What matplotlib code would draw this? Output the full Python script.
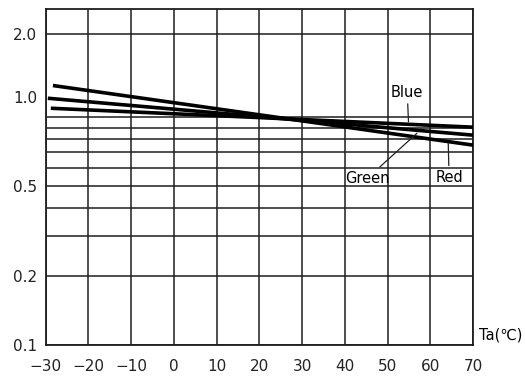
import numpy as np
import matplotlib
matplotlib.use("Agg")
import matplotlib.pyplot as plt

# ---- data ----
temps_red = [-28.3, 70]
red_vals = [1.30, 0.754]
temps_green = [-29.5, 70]
green_vals = [1.17, 0.834]
temps_blue = [-28.8, 70]
blue_vals = [1.077, 0.904]

x_ticks = [-30, -20, -10, 0, 10, 20, 30, 40, 50, 60, 70]
x_tick_labels = ['\u221230', '\u221220', '\u221210', '0', '10', '20', '30', '40', '50', '60', '70']
y_grid = [0.1, 0.2, 0.3, 0.4, 0.5, 0.6, 0.7, 0.8, 0.9, 1.0, 2.0]
y_tick_labels = ['0.1', '0.2', '', '', '0.5', '', '', '', '', '', '2.0']

# chart's own (slightly stretched above 1.0) logarithmic scale
K = 1.22


def fwd(y):
    y = np.asarray(y, dtype=float)
    l = np.log10(np.clip(y, 1e-9, None))
    return np.where(l > 0, l * K, l)


def inv(u):
    u = np.asarray(u, dtype=float)
    return np.where(u > 0, 10 ** (u / K), 10 ** u)


plt.rcParams['font.family'] = ['DejaVu Sans']

fig = plt.figure(figsize=(5.25, 3.76), dpi=100)
ax = fig.add_axes([0.087, 0.0824, 0.814, 0.8936])
ax.set_yscale('function', functions=(fwd, inv))
ax.set_xlim(-30, 70)
ax.set_ylim(0.1, 2.45)

gc = '#1e1e1e'
for x in x_ticks:
    ax.axvline(x, color=gc, lw=1.1, zorder=1)
for y in y_grid:
    ax.axhline(y, color=gc, lw=1.1, zorder=1)

lw = 2.6
ax.plot(temps_red, red_vals, color='black', lw=lw, solid_capstyle='butt', zorder=3)
ax.plot(temps_green, green_vals, color='black', lw=lw, solid_capstyle='butt', zorder=3)
ax.plot(temps_blue, blue_vals, color='black', lw=lw, solid_capstyle='butt', zorder=3)

ax.set_xticks(x_ticks)
ax.set_xticklabels(x_tick_labels)
ax.set_yticks(y_grid)
ax.set_yticklabels(y_tick_labels)
ax.minorticks_off()
ax.tick_params(axis='both', length=0, labelsize=11, colors='#222222')
ax.tick_params(axis='x', pad=10)
ax.tick_params(axis='y', pad=6)

# the "1.0" label sits a little above its grid line in the reference
ax.annotate('1.0', xy=(0, 1.0), xycoords=('axes fraction', 'data'), xytext=(-6, 13.5),
            textcoords='offset points', ha='right', va='center', fontsize=11,
            color='#222222', annotation_clip=False)

for s in ax.spines.values():
    s.set_linewidth(1.3)
    s.set_color('#1e1e1e')

ap = dict(arrowstyle='-', color='#222222', lw=0.9, shrinkA=1, shrinkB=0)
ax.annotate('Blue', xy=(54.9, 0.955), xytext=(54.6, 1.23), ha='center', va='center',
            fontsize=10.5, arrowprops=ap, zorder=5)
ax.annotate('Green', xy=(56.9, 0.851), xytext=(45.3, 0.54), ha='center', va='center',
            fontsize=10.5, arrowprops=ap, zorder=5)
ax.annotate('Red', xy=(64.2, 0.77), xytext=(64.4, 0.545), ha='center', va='center',
            fontsize=10.5, arrowprops=ap, zorder=5)

ax.text(1.065, 0.03, 'Ta(\u2103)', transform=ax.transAxes, ha='center', va='center',
        fontsize=10.5, clip_on=False)

fig.savefig('out.png', dpi=100, facecolor='white')
